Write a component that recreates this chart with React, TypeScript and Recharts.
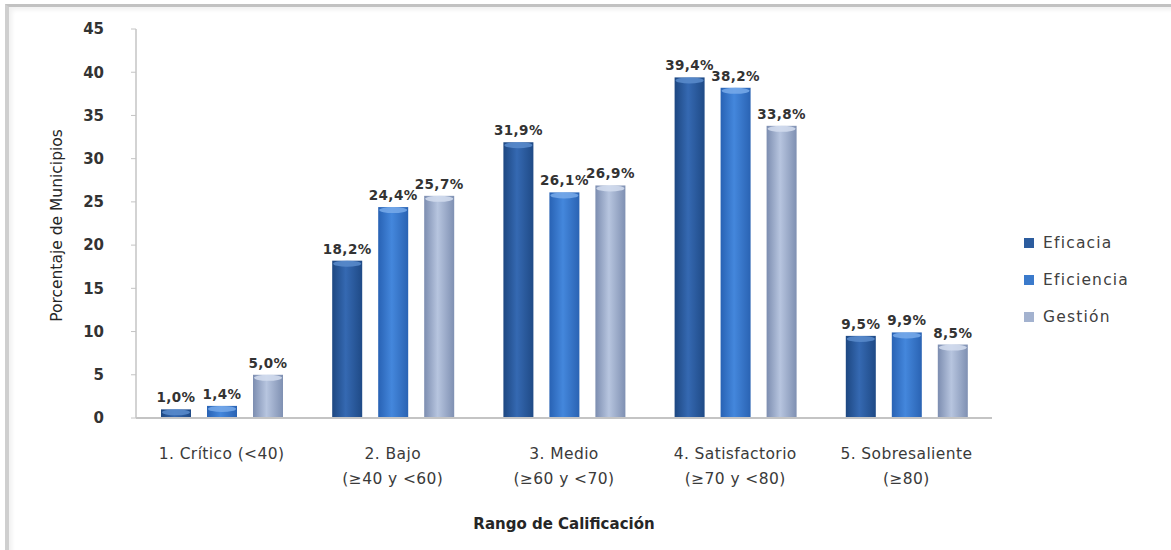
import React from 'react';
import { BarChart, Bar, XAxis, YAxis, Legend, LabelList, Label } from 'recharts';

// categories and values
const categories = [
  '1. Crítico (<40)',
  '2. Bajo\n(≥40 y <60)',
  '3. Medio\n(≥60 y <70)',
  '4. Satisfactorio\n(≥70 y <80)',
  '5. Sobresaliente\n(≥80)',
];
const eficacia = [1.0, 18.2, 31.9, 39.4, 9.5];
const eficiencia = [1.4, 24.4, 26.1, 38.2, 9.9];
const gestion = [5.0, 25.7, 26.9, 33.8, 8.5];
const yTicks = [0, 5, 10, 15, 20, 25, 30, 35, 40, 45];

const data = categories.map((category, i) => ({
  category,
  eficacia: eficacia[i],
  eficiencia: eficiencia[i],
  gestion: gestion[i],
}));

const SERIES = [
  { key: 'eficacia', name: 'Eficacia', grad: 'gradEficacia', swatch: '#2c5c9e', cap: '#5b8ccc' },
  { key: 'eficiencia', name: 'Eficiencia', grad: 'gradEficiencia', swatch: '#3b7acb', cap: '#78aaea' },
  { key: 'gestion', name: 'Gestión', grad: 'gradGestion', swatch: '#a3b2cf', cap: '#d3ddef' },
];

const FONT = '"DejaVu Sans", "Open Sans", sans-serif';

const pct = (v: any) => Number(v).toFixed(1).replace('.', ',') + '%';

const CategoryTick = (props: any) => {
  const { x, y, payload } = props;
  const lines = String(payload.value).split('\n');
  return (
    <text x={x} y={y} textAnchor="middle" fontFamily={FONT} fontSize={15.5} letterSpacing={0.4} fill="#3a3a3a">
      {lines.map((l, i) => (
        <tspan key={i} x={x} dy={i === 0 ? 41 : 25}>{l}</tspan>
      ))}
    </text>
  );
};

// cylinder-like bar: shaded body plus a lighter cap on top
const makeShape = (grad: string, cap: string) => (props: any) => {
  const { x, y, width, height } = props;
  if (!height || height <= 0) return null;
  const ry = Math.min(3, height / 2);
  return (
    <g>
      <rect x={x} y={y} width={width} height={height} fill={`url(#${grad})`} />
      <ellipse cx={x + width / 2} cy={y + ry} rx={width / 2 - 1} ry={ry} fill={cap} opacity={0.85} />
    </g>
  );
};

const LegendBox = (props: any) => {
  const payload = props.payload || [];
  return (
    <div style={{ fontFamily: FONT, fontSize: 15.5, color: '#404040', letterSpacing: 1.2 }}>
      {payload.map((p: any) => {
        const s = SERIES.find((x) => x.key === p.dataKey);
        return (
          <div key={p.dataKey} style={{ display: 'flex', alignItems: 'center', height: 37 }}>
            <span style={{ width: 10, height: 10, background: s ? s.swatch : p.color, marginRight: 9, display: 'inline-block' }} />
            <span>{p.value}</span>
          </div>
        );
      })}
    </div>
  );
};

export default function App() {
  return (
    <div style={{ position: 'fixed', left: 0, top: 0, width: 1171, height: 550, overflow: 'hidden', background: '#fff' }}>
      <div
        style={{
          position: 'absolute',
          left: 5,
          top: 4,
          width: 1200,
          height: 600,
          borderTop: '3px solid #c2c2c2',
          borderLeft: '4px solid #cfcfcf',
          boxShadow: 'inset 3px 3px 4px rgba(0,0,0,0.06)',
        }}
      />
      <div style={{ position: 'absolute', left: 0, top: 0 }}>
        <BarChart
          width={1171}
          height={550}
          data={data}
          margin={{ top: 29, right: 179, bottom: 22, left: 0 }}
          barSize={30}
          barGap={16}
        >
          <defs>
            <linearGradient id="gradEficacia" x1="0" y1="0" x2="1" y2="0">
              <stop offset="0%" stopColor="#1d4781" />
              <stop offset="45%" stopColor="#3569b2" />
              <stop offset="100%" stopColor="#1f4a86" />
            </linearGradient>
            <linearGradient id="gradEficiencia" x1="0" y1="0" x2="1" y2="0">
              <stop offset="0%" stopColor="#2862b4" />
              <stop offset="45%" stopColor="#4487dc" />
              <stop offset="100%" stopColor="#2a63b3" />
            </linearGradient>
            <linearGradient id="gradGestion" x1="0" y1="0" x2="1" y2="0">
              <stop offset="0%" stopColor="#7c8db0" />
              <stop offset="45%" stopColor="#b7c5df" />
              <stop offset="100%" stopColor="#7f90b2" />
            </linearGradient>
          </defs>
          <XAxis
            dataKey="category"
            interval={0}
            height={110}
            tick={<CategoryTick />}
            tickLine={false}
            tickSize={0}
            tickMargin={0}
            axisLine={{ stroke: '#c4c4c4', strokeWidth: 2 }}
          >
            <Label
              content={({ viewBox }: any) => {
                const vb = viewBox || { x: 136, y: 418, width: 856 };
                return (
                  <text
                    x={vb.x + vb.width / 2}
                    y={vb.y + 111}
                    textAnchor="middle"
                    fontFamily={FONT}
                    fontWeight="bold"
                    fontSize={15}
                    fill="#262626"
                  >
                    Rango de Calificación
                  </text>
                );
              }}
            />
          </XAxis>
          <YAxis
            width={136}
            domain={[0, 45]}
            ticks={yTicks}
            interval={0}
            tickSize={5}
            tickMargin={27}
            tick={{ fontFamily: FONT, fontSize: 15, fontWeight: 'bold', fill: '#333' }}
            tickLine={{ stroke: '#c4c4c4' }}
            axisLine={{ stroke: '#c4c4c4', strokeWidth: 1.5 }}
          >
            <Label
              content={({ viewBox }: any) => {
                const vb = viewBox || { x: 0, y: 29, height: 389 };
                const cx = vb.x + 57;
                const cy = vb.y + vb.height / 2 + 2;
                return (
                  <text
                    x={cx}
                    y={cy}
                    transform={`rotate(-90 ${cx} ${cy})`}
                    textAnchor="middle"
                    dominantBaseline="central"
                    fontFamily={FONT}
                    fontSize={15.5}
                    fill="#262626"
                  >
                    Porcentaje de Municipios
                  </text>
                );
              }}
            />
          </YAxis>
          <Legend
            layout="horizontal"
            align="center"
            verticalAlign="middle"
            content={<LegendBox />}
            wrapperStyle={{ left: 1024, top: 224, width: 140 }}
          />
          {SERIES.map((s) => (
            <Bar
              key={s.key}
              dataKey={s.key}
              name={s.name}
              fill={`url(#${s.grad})`}
              shape={makeShape(s.grad, s.cap)}
              isAnimationActive={false}
            >
              <LabelList
                dataKey={s.key}
                position="top"
                offset={7}
                formatter={pct}
                style={{ fontFamily: FONT, fontSize: 13.5, fontWeight: 'bold', fill: '#333', letterSpacing: 0.4 }}
              />
            </Bar>
          ))}
        </BarChart>
      </div>
    </div>
  );
}
